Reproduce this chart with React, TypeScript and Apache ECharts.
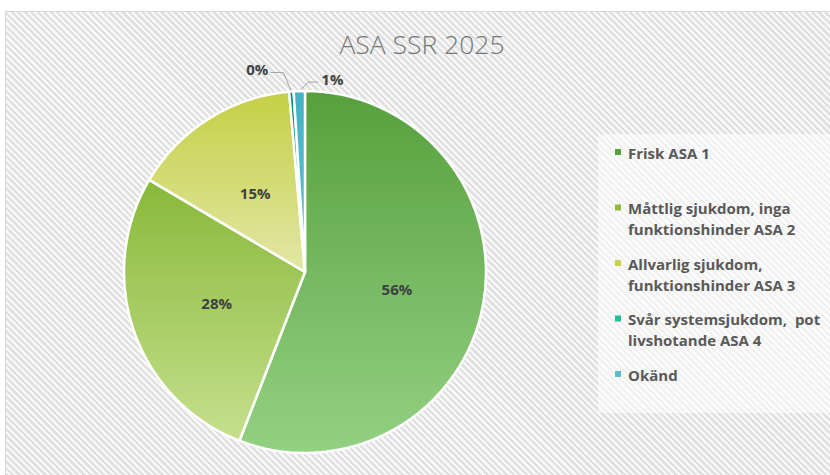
import React, { useEffect, useRef } from 'react';
import * as echarts from 'echarts';

const titleText = 'ASA SSR 2025';
const categories = [
  'Frisk ASA 1',
  'Måttlig sjukdom, inga\nfunktionshinder ASA 2',
  'Allvarlig sjukdom,\nfunktionshinder ASA 3',
  'Svår systemsjukdom,  pot\nlivshotande ASA 4',
  'Okänd',
];
const shares = [55.9, 27.6, 15.1, 0.4, 1.0];
const topColors = ['#57a03d', '#88b93a', '#c5cf45', '#0e8f72', '#45b1c4'];
const bottomColors = ['#93d183', '#c6df8d', '#e2e7a6', '#34c6a6', '#62c2d2'];
const legendColors = ['#55a043', '#8dbc40', '#c9d04a', '#1ec09c', '#5bbccc'];

const legendIcon = 'path://M0,0L0.01,0M2,7L8,7L8,13L2,13ZM0,42L0.01,42';
const FONT = '"Open Sans", Lato, sans-serif';

export default function App() {
  const ref = useRef<HTMLDivElement>(null);

  useEffect(() => {
    if (!ref.current) return;
    const chart = echarts.init(ref.current, undefined, { renderer: 'svg' });

    const data = categories.map((name, i) => ({
      name,
      value: shares[i],
      itemStyle: {
        color: new echarts.graphic.LinearGradient(0, 0, 0, 1, [
          { offset: 0, color: topColors[i] },
          { offset: 1, color: bottomColors[i] },
        ]),
      },
      label: { position: i < 3 ? 'inside' : 'outside' },
      labelLine: { show: i >= 3 },
    }));

    chart.setOption({
      animation: false,
      title: {
        text: titleText,
        left: 'center',
        top: 30,
        padding: 0,
        textStyle: {
          fontFamily: FONT,
          fontWeight: 300,
          fontSize: 26.5,
          color: '#777777',
        },
      },
      graphic: [
        {
          type: 'rect',
          shape: { x: 598, y: 134, width: 260, height: 279 },
          style: { fill: 'rgba(255,255,255,0.55)' },
          silent: true,
          z: 0,
        },
      ],
      legend: {
        orient: 'vertical',
        left: 598,
        top: 134,
        padding: [8, 10, 6, 15],
        itemGap: 13.5,
        itemWidth: 8,
        itemHeight: 42,
        selectedMode: false,
        data: categories.map((name, i) => ({
          name,
          icon: legendIcon,
          itemStyle: { color: legendColors[i], borderWidth: 0 },
        })),
        formatter: (name: string) => (name.indexOf('\n') >= 0 ? name : name + '\n '),
        textStyle: {
          fontFamily: FONT,
          fontWeight: 'bold',
          fontSize: 15,
          lineHeight: 21,
          color: '#595959',
          padding: [0, 0, 0, 2],
        },
      },
      series: [
        {
          type: 'pie',
          center: [305, 272],
          radius: 181,
          startAngle: 90,
          clockwise: true,
          avoidLabelOverlap: false,
          itemStyle: { borderColor: '#ffffff', borderWidth: 2.5 },
          label: {
            fontFamily: FONT,
            fontWeight: 'bold',
            fontSize: 15,
            color: '#404040',
            formatter: (p: any) => Math.round(p.percent) + '%',
          },
          labelLine: {
            lineStyle: { color: '#a6a6a6', width: 1 },
            length: 15,
            length2: 10,
          },
          labelLayout: (params: any) => {
            const pts = params.labelLinePoints;
            if (!pts || (params.dataIndex !== 3 && params.dataIndex !== 4)) return {};
            const p0 = pts[0];
            if (params.dataIndex === 3) {
              const p1 = [p0[0] - 8, p0[1] - 19];
              const p2 = [p1[0] - 13, p1[1]];
              return {
                x: p2[0] - 2,
                y: p2[1] - 4,
                align: 'right',
                verticalAlign: 'middle',
                labelLinePoints: [p0, p1, p2],
              };
            }
            const p1 = [p0[0] + 9, p0[1] - 9];
            const p2 = [p1[0] + 10, p1[1]];
            return {
              x: p2[0] + 3,
              y: p2[1] - 3,
              align: 'left',
              verticalAlign: 'middle',
              labelLinePoints: [p0, p1, p2],
            };
          },
          data,
        },
      ],
    });

    return () => chart.dispose();
  }, []);

  return (
    <div
      style={{
        position: 'fixed',
        left: 0,
        top: 0,
        width: 830,
        height: 475,
        overflow: 'hidden',
        background: '#ffffff',
      }}
    >
      <div
        style={{
          position: 'absolute',
          left: 5,
          top: 11,
          width: 860,
          height: 500,
          border: '1px solid #d9d9d9',
          background:
            'repeating-linear-gradient(45deg, #f8f8f8 0px, #f8f8f8 2.1px, #e0e0e0 2.5px, #e0e0e0 4.6px)',
        }}
      />
      <div ref={ref} style={{ position: 'absolute', left: 0, top: 0, width: 844, height: 475 }} />
    </div>
  );
}
